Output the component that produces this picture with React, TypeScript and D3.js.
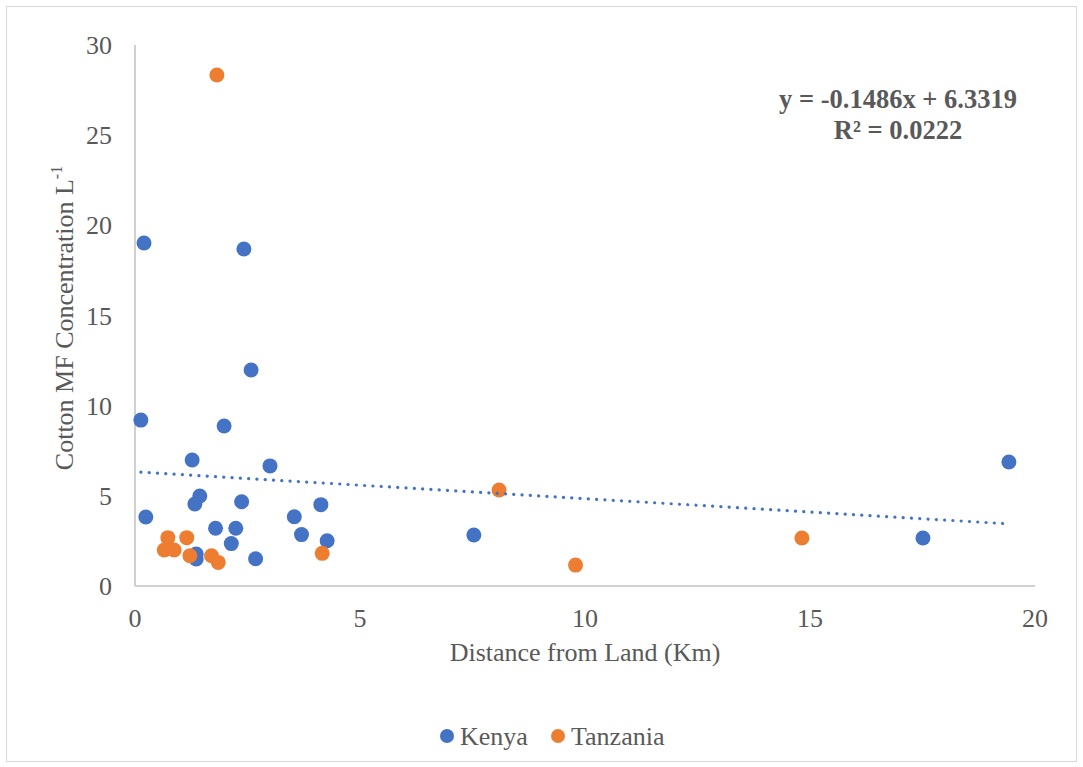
import React from "react";
import * as d3 from "d3";

const kenyaX = [0.2, 2.42, 2.58, 0.13, 1.98, 1.27, 3.0, 19.42, 0.24, 1.44, 1.33, 2.37, 1.79, 2.24, 2.14, 1.36, 1.36, 2.68, 3.54, 3.70, 4.13, 4.27, 7.53, 17.51];
const kenyaY = [19.02, 18.69, 11.98, 9.2, 8.87, 6.99, 6.66, 6.88, 3.83, 4.99, 4.55, 4.67, 3.2, 3.2, 2.35, 1.77, 1.5, 1.51, 3.84, 2.85, 4.51, 2.51, 2.83, 2.66];
const tanzaniaX = [1.82, 8.09, 9.79, 14.82, 4.16, 0.73, 1.15, 0.65, 0.87, 1.22, 1.70, 1.85];
const tanzaniaY = [28.34, 5.32, 1.16, 2.66, 1.81, 2.68, 2.68, 2.0, 2.0, 1.68, 1.68, 1.31];
const xTicks = [0, 5, 10, 15, 20];
const yTicks = [0, 5, 10, 15, 20, 25, 30];
const slope = -0.1486;
const intercept = 6.3319;

const W = 1083;
const H = 767;
const BLUE = "#4472C4";
const ORANGE = "#ED7D31";
const TEXT = "#595959";
const FONT = "'Liberation Serif', 'Times New Roman', serif";
const FS = 26;

export default function App() {
  const x = d3.scaleLinear().domain([0, 20]).range([135, 1035]);
  const y = d3.scaleLinear().domain([0, 30]).range([586, 45]);
  const allX = kenyaX.concat(tanzaniaX);
  const xMin = d3.min(allX) as number;
  const xMax = d3.max(allX) as number;
  const line = d3.line<number>().x((d) => x(d)).y((d) => y(slope * d + intercept));
  const kenya = kenyaX.map((v, i) => [v, kenyaY[i]]);
  const tanz = tanzaniaX.map((v, i) => [v, tanzaniaY[i]]);
  return (
    <svg width={W} height={H} style={{ position: "absolute", left: 0, top: 0 }} fontFamily={FONT}>
      <rect x={0} y={0} width={W} height={H} fill="#fff" />
      <rect x={6.5} y={6.5} width={1070} height={755} fill="none" stroke="#d9d9d9" strokeWidth={1} />
      <line x1={135} x2={135} y1={y(30)} y2={586} stroke="#d0d0d0" strokeWidth={2} />
      <line x1={135} x2={1035} y1={586} y2={586} stroke="#d0d0d0" strokeWidth={2} />
      {yTicks.map((t) => (
        <text key={"y" + t} x={112} y={y(t)} dy="0.35em" textAnchor="end" fontSize={FS} fill={TEXT}>
          {t}
        </text>
      ))}
      {xTicks.map((t) => (
        <text key={"x" + t} x={x(t)} y={627} textAnchor="middle" fontSize={FS} fill={TEXT}>
          {t}
        </text>
      ))}
      <text x={585} y={661} textAnchor="middle" fontSize={FS} fill={TEXT}>
        Distance from Land (Km)
      </text>
      <text transform="translate(73,318) rotate(-90)" textAnchor="middle" fontSize={FS} fill={TEXT}>
        Cotton MF Concentration L
        <tspan fontSize={16} dy={-11}>-1</tspan>
      </text>
      {kenya.map((d, i) => (
        <circle key={"k" + i} cx={x(d[0])} cy={y(d[1])} r={7.5} fill={BLUE} />
      ))}
      {tanz.map((d, i) => (
        <circle key={"t" + i} cx={x(d[0])} cy={y(d[1])} r={7.5} fill={ORANGE} />
      ))}
      <path
        d={line([xMin, xMax]) || ""}
        fill="none"
        stroke={BLUE}
        strokeWidth={3.2}
        strokeDasharray="0.1 8.2"
        strokeLinecap="round"
      />
      <text x={898} y={108} textAnchor="middle" fontSize={26.5} fontWeight="bold" fill={TEXT}>
        y = -0.1486x + 6.3319
      </text>
      <text x={898} y={139} textAnchor="middle" fontSize={26.5} fontWeight="bold" fill={TEXT}>
        R² = 0.0222
      </text>
      <circle cx={447} cy={736} r={7} fill={BLUE} />
      <text x={460} y={736} dy="0.35em" fontSize={FS} fill={TEXT}>Kenya</text>
      <circle cx={558} cy={736} r={7} fill={ORANGE} />
      <text x={571} y={736} dy="0.35em" fontSize={FS} fill={TEXT}>Tanzania</text>
    </svg>
  );
}
